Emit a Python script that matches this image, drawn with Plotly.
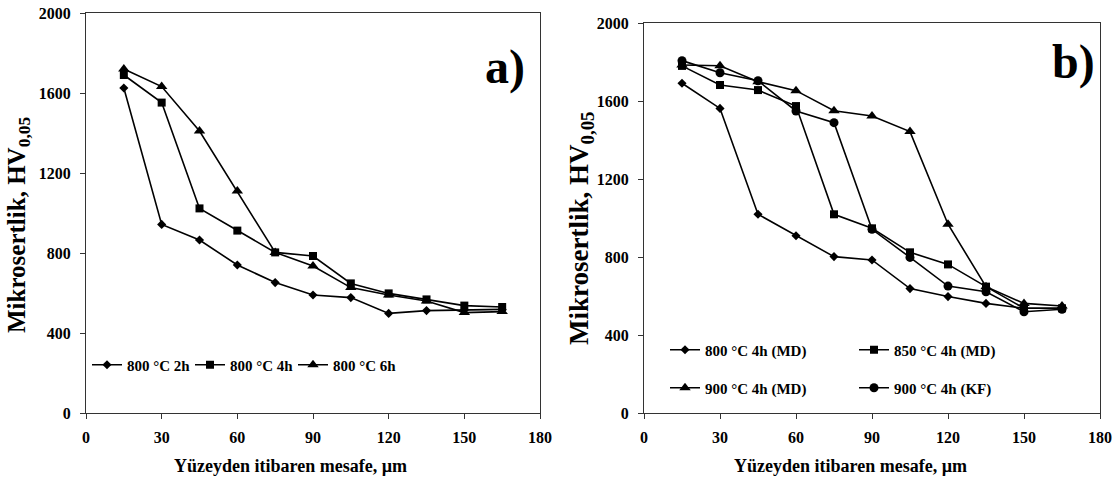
import plotly.graph_objects as go

# ---- data ----
depth = [15, 30, 45, 60, 75, 90, 105, 120, 135, 150, 165]
x_ticks = [0, 30, 60, 90, 120, 150, 180]
y_ticks = [0, 400, 800, 1200, 1600, 2000]

# panel a)
a_names = ["800 °C 2h", "800 °C 4h", "800 °C 6h"]
a_2h = [1625, 943, 865, 740, 652, 590, 577, 498, 512, 515, 518]
a_4h = [1690, 1552, 1023, 912, 803, 785, 648, 598, 568, 537, 530]
a_6h = [1720, 1632, 1410, 1110, 803, 735, 627, 590, 560, 502, 507]

# panel b)
b_names = ["800 °C 4h (MD)", "850 °C 4h (MD)", "900 °C 4h (MD)", "900 °C 4h (KF)"]
b_800md = [1691, 1562, 1019, 909, 802, 785, 638, 597, 562, 537, 537]
b_850md = [1780, 1682, 1656, 1574, 1019, 947, 824, 762, 648, 537, 537]
b_900md = [1785, 1781, 1699, 1653, 1550, 1523, 1443, 968, 648, 562, 549]
b_900kf = [1807, 1745, 1704, 1549, 1489, 942, 798, 651, 622, 519, 532]

FONT = "Liberation Serif"
W, H = 1116, 484


def px(x):
    return x / W


def py(y):
    return 1 - y / H


fig = go.Figure()


def add(x, y, name, symbol, size, xa, ya, legend):
    fig.add_trace(go.Scatter(
        x=x, y=y, name=name, mode="lines+markers",
        line=dict(color="black", width=1.6),
        marker=dict(symbol=symbol, size=size, color="black"),
        xaxis=xa, yaxis=ya, legend=legend,
    ))


add(depth, a_2h, a_names[0], "diamond", 7, "x", "y", "legend")
add(depth, a_4h, a_names[1], "square", 8, "x", "y", "legend")
add(depth, a_6h, a_names[2], "triangle-up", 10, "x", "y", "legend")

add(depth, b_800md, b_names[0], "diamond", 7, "x2", "y2", "legend2")
add(depth, b_850md, b_names[1], "square", 8, "x2", "y2", "legend2")
add(depth, b_900md, b_names[2], "triangle-up", 10, "x2", "y2", "legend3")
add(depth, b_900kf, b_names[3], "circle", 9, "x2", "y2", "legend3")

tickfont = dict(family=FONT, size=16, color="black", weight="bold")


def xax(domain, anchor):
    return dict(domain=domain, range=[0, 180], tickvals=x_ticks, showgrid=False,
                zeroline=False, showline=True, linecolor="#333", linewidth=1.2,
                mirror=True, ticks="outside", ticklen=5, tickcolor="#333",
                tickfont=tickfont, ticklabelstandoff=5, anchor=anchor,
                automargin=False, ticklabeloverflow="allow")


def yax(domain, anchor):
    return dict(domain=domain, range=[0, 2000], tickvals=y_ticks, showgrid=False,
                zeroline=False, showline=True, linecolor="#333", linewidth=1.2,
                mirror=True, ticks="outside", ticklen=5, tickcolor="#333",
                tickfont=tickfont, ticklabelstandoff=6, anchor=anchor,
                automargin=False, ticklabeloverflow="allow")


leg_font = dict(family=FONT, size=15, color="black", weight="bold")

fig.update_layout(
    width=W, height=H,
    margin=dict(l=0, r=0, t=0, b=0, autoexpand=False),
    paper_bgcolor="white", plot_bgcolor="white",
    showlegend=True,
    xaxis=xax([px(86), px(540)], "y"),
    yaxis=yax([py(413), py(13)], "x"),
    xaxis2=xax([px(644), px(1100)], "y2"),
    yaxis2=yax([py(413), py(23)], "x2"),
    legend=dict(orientation="h", x=px(87), y=py(365), xanchor="left", yanchor="middle",
                font=leg_font, bgcolor="rgba(0,0,0,0)", entrywidth=58, itemwidth=30),
    legend2=dict(orientation="h", x=px(665), y=py(350), xanchor="left", yanchor="middle",
                 font=leg_font, bgcolor="rgba(0,0,0,0)", entrywidth=144, itemwidth=30),
    legend3=dict(orientation="h", x=px(665), y=py(388), xanchor="left", yanchor="middle",
                 font=leg_font, bgcolor="rgba(0,0,0,0)", entrywidth=144, itemwidth=30),
)

ann = []
title_font = dict(family=FONT, size=18, color="black", weight="bold")
ann.append(dict(text="Yüzeyden itibaren mesafe, µm", x=px(290), y=py(466),
                xref="paper", yref="paper", showarrow=False, font=title_font,
                xanchor="center", yanchor="middle"))
ann.append(dict(text="Yüzeyden itibaren mesafe, µm", x=px(850), y=py(466),
                xref="paper", yref="paper", showarrow=False, font=title_font,
                xanchor="center", yanchor="middle"))
ann.append(dict(text="Mikrosertlik, HV<sub>0,05</sub>", x=px(19), y=py(225),
                xref="paper", yref="paper", showarrow=False, textangle=-90,
                font=dict(family=FONT, size=25, color="black", weight="bold"),
                xanchor="center", yanchor="middle"))
ann.append(dict(text="Mikrosertlik, HV<sub>0,05</sub>", x=px(581), y=py(228),
                xref="paper", yref="paper", showarrow=False, textangle=-90,
                font=dict(family=FONT, size=27, color="black", weight="bold"),
                xanchor="center", yanchor="middle"))
ann.append(dict(text="a)", x=px(527), y=py(67), xref="paper", yref="paper",
                showarrow=False, xanchor="right", yanchor="middle",
                font=dict(family=FONT, size=48, color="black", weight="bold")))
ann.append(dict(text="b)", x=px(1097), y=py(62), xref="paper", yref="paper",
                showarrow=False, xanchor="right", yanchor="middle",
                font=dict(family=FONT, size=48, color="black", weight="bold")))
fig.update_layout(annotations=ann)

# remove the browser's default 8px body margin so the figure sits at the window's top-left
fig.write_html("out.html", config={"displayModeBar": False},
               post_script="document.body.style.margin='0px';")
